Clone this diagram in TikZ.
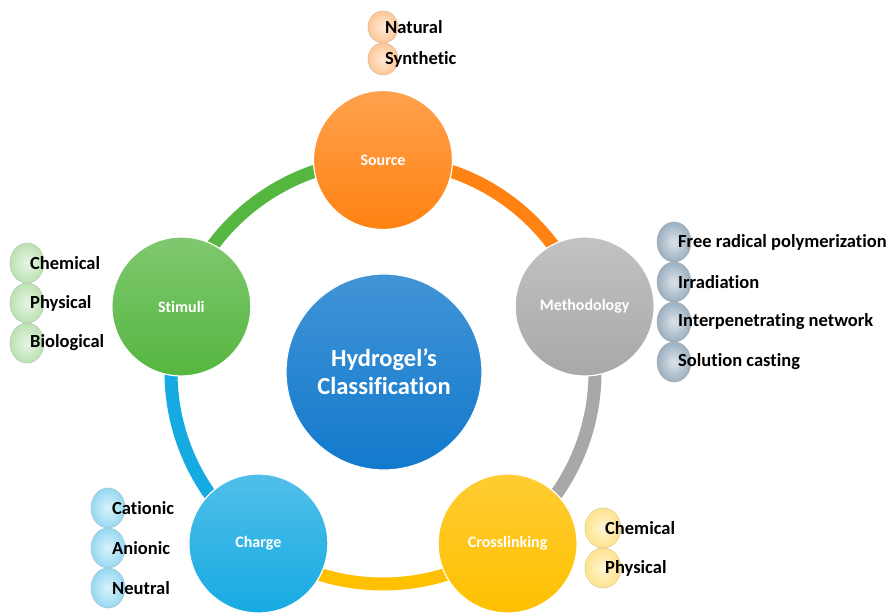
\documentclass[tikz,border=0pt]{standalone}
\usepackage{fontspec}
\setmainfont{Carlito}[Ligatures=NoCommon]
\usetikzlibrary{shapes.geometric,backgrounds}

\definecolor{srcorange}{HTML}{FF8212}
\definecolor{methgrey}{HTML}{A8A8A8}
\definecolor{crossyellow}{HTML}{FFC000}
\definecolor{chargeblue}{HTML}{16AAE2}
\definecolor{stimgreen}{HTML}{55B640}
\definecolor{hydroblue}{HTML}{1279CC}
\definecolor{methbub}{HTML}{9CB0C0}

\tikzset{
  hub/.style={circle, minimum size=139pt, inner sep=0pt, draw=white, line width=1.2pt,
    text=white, font=\bfseries\fontsize{16}{19}\selectfont},
  core/.style={circle, minimum size=196pt, inner sep=0pt, draw=white, line width=1.2pt,
    text=white, align=center, font=\bfseries\fontsize{24.5}{28}\selectfont,
    top color=hydroblue!80!white, bottom color=hydroblue},
  bub/.style={ellipse, minimum width=34pt, minimum height=40pt, inner sep=0pt,
    draw=#1!80!black!70, line width=0.6pt,
    shading=radial, inner color=#1!35!white, outer color=#1},
  item/.style={anchor=west, inner sep=0pt, font=\bfseries\fontsize{18.5}{22}\selectfont},
  ringarc/.style={line width=13pt, draw=#1}
}

\begin{document}
\begin{tikzpicture}[x=1pt, y=1pt]
  \useasboundingbox (0,0) rectangle (890,613);

  % ---------- centre and the five classes ----------
  \coordinate (ring) at (383,241);
  \node[core] (hydro) at (384,241) {Hydrogel’s\\Classification};

  \path (ring) ++(90:212)   node[hub, top color=srcorange!75!white, bottom color=srcorange] (src) {Source};
  \path (ring) ++(18:212)   node[hub, top color=methgrey!70!white, bottom color=methgrey] (meth) {Methodology};
  \path (ring) ++(-54:212)  node[hub, top color=crossyellow!80!white, bottom color=crossyellow] (cross) {Crosslinking};
  \path (ring) ++(-126:212) node[hub, top color=chargeblue!75!white, bottom color=chargeblue] (charge) {Charge};
  \path (ring) ++(162:212)  node[hub, top color=stimgreen!75!white, bottom color=stimgreen] (stim) {Stimuli};

  % ---------- ring between the classes ----------
  \begin{pgfonlayer}{background}
    \draw[ringarc=srcorange]   (src.center)    arc[start angle=90,   end angle=18,   radius=212];
    \draw[ringarc=methgrey]    (meth.center)   arc[start angle=18,   end angle=-54,  radius=212];
    \draw[ringarc=crossyellow] (cross.center)  arc[start angle=-54,  end angle=-126, radius=212];
    \draw[ringarc=chargeblue]  (charge.center) arc[start angle=-126, end angle=-198, radius=212];
    \draw[ringarc=stimgreen]   (stim.center)   arc[start angle=162,  end angle=90,   radius=212];
  \end{pgfonlayer}

  % ---------- source ----------
  \foreach \y/\t [count=\i] in {586/Natural, 554/Synthetic}{
    \node[bub=srcorange!45!white, minimum width=30pt, minimum height=32pt] (srcb\i) at (383,\y) {};
    \node[item] at ([xshift=2pt]srcb\i.center) {\t};
  }

  % ---------- methodology ----------
  \foreach \y/\t [count=\i] in {371/Free radical polymerization, 331/Irradiation,
                                291/Interpenetrating network, 251/Solution casting}{
    \node[bub=methbub] (methb\i) at (674,\y) {};
    \node[item] at ([xshift=4pt]methb\i.center) {\t};
  }

  % ---------- stimuli ----------
  \foreach \y/\t [count=\i] in {350/Chemical, 310/Physical, 270/Biological}{
    \node[bub=stimgreen!40!white] (stimb\i) at (27,\y) {};
    \node[item] at ([xshift=3pt]stimb\i.center) {\t};
  }

  % ---------- charge ----------
  \foreach \y/\t [count=\i] in {105/Cationic, 65/Anionic, 25/Neutral}{
    \node[bub=chargeblue!45!white] (chargeb\i) at (108,\y) {};
    \node[item] at ([xshift=4pt]chargeb\i.center) {\t};
  }

  % ---------- crosslinking ----------
  \foreach \y/\t [count=\i] in {85/Chemical, 45/Physical}{
    \node[bub=crossyellow!45!white, minimum width=36pt] (crossb\i) at (603,\y) {};
    \node[item] at ([xshift=2pt]crossb\i.center) {\t};
  }

\end{tikzpicture}
\end{document}
